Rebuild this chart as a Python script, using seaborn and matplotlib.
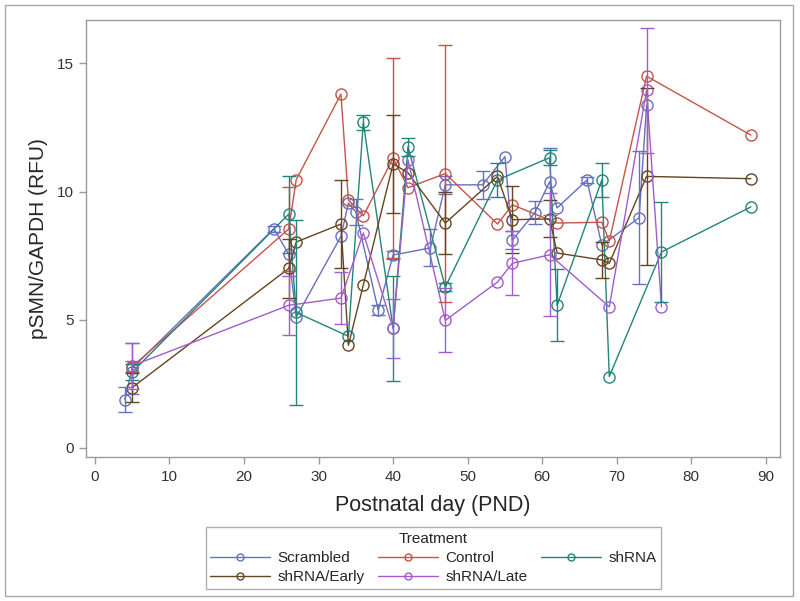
import matplotlib
matplotlib.use('Agg')
import matplotlib.pyplot as plt
import numpy as np
import pandas as pd
import seaborn as sns
from matplotlib.lines import Line2D
from matplotlib.patches import Rectangle


treatments = ['Scrambled', 'Control', 'shRNA', 'shRNA/Early', 'shRNA/Late']
colors = ['#6770bd', '#c6534a', '#23857a', '#664420', '#a25ccd']

# values (mean, +/- error; 0 = no bar drawn)
scr_day = [4, 5, 24, 26, 27, 33, 34, 35, 38, 40, 45, 47, 52, 55, 56, 59, 61, 62, 66, 68, 73, 74]
scr_val = [1.88, 3.1, 8.55, 7.55, 5.1, 8.25, 9.55, 9.2, 5.37, 7.52, 7.8, 10.26, 10.26, 11.36,
           8.1, 9.17, 10.38, 9.36, 10.45, 7.9, 8.98, 13.37]
scr_err = [0.5, 1.0, 0.12, 0, 0, 0, 0, 0.5, 0.2, 0.15, 0.72, 0.35, 0.55, 0,
           0.35, 0.45, 1.3, 0, 0.1, 0, 2.6, 0]

ctl_day = [5, 26, 27, 33, 34, 36, 40, 42, 47, 54, 56, 62, 68, 69, 74, 88]
ctl_val = [3.17, 8.54, 10.46, 13.8, 9.67, 9.05, 11.3, 10.15, 10.7, 8.73, 9.48, 8.77, 8.8, 8.07, 14.5, 12.2]
ctl_err = [0.2, 1.65, 0, 0, 0, 0, 3.9, 0, 5.0, 0, 0, 0, 0, 0, 0, 0]

sh_day = [5, 26, 27, 34, 36, 40, 42, 47, 54, 61, 62, 68, 69, 76, 88]
sh_val = [2.95, 9.12, 5.28, 4.35, 12.7, 4.66, 11.75, 6.27, 10.45, 11.32, 5.56, 10.45, 2.78, 7.64, 9.4]
sh_err = [0.3, 1.5, 3.6, 0, 0.3, 2.05, 0.35, 0.15, 0.65, 0.3, 1.4, 0.65, 0, 1.95, 0]

early_day = [5, 26, 27, 33, 34, 36, 40, 42, 47, 54, 56, 61, 62, 68, 69, 74, 88]
early_val = [2.35, 7.0, 8.03, 8.73, 4.0, 6.35, 11.08, 10.73, 8.77, 10.59, 8.9, 8.93, 7.6, 7.33, 7.2, 10.59, 10.5]
early_err = [0.55, 1.15, 0, 1.73, 0, 0, 1.92, 0, 1.2, 0, 1.3, 0.72, 0, 0.7, 0, 3.45, 0]

late_day = [5, 26, 33, 36, 40, 42, 47, 54, 56, 61, 69, 74, 76]
late_val = [3.2, 5.56, 5.84, 8.38, 4.66, 11.24, 4.97, 6.47, 7.2, 7.53, 5.5, 13.95, 5.5]
late_err = [0.9, 1.15, 1.0, 0, 1.15, 0, 1.25, 0, 1.25, 2.4, 0, 2.45, 0]


def build_frame():
    series = [
        ('Scrambled', scr_day, scr_val, scr_err),
        ('Control', ctl_day, ctl_val, ctl_err),
        ('shRNA', sh_day, sh_val, sh_err),
        ('shRNA/Early', early_day, early_val, early_err),
        ('shRNA/Late', late_day, late_val, late_err),
    ]
    frames = []
    for name, d, v, e in series:
        frames.append(pd.DataFrame({'PND': d, 'pSMN': v, 'err': e, 'Treatment': name}))
    return pd.concat(frames, ignore_index=True)


def plot():
    sns.set_style('white')
    plt.rcParams['font.family'] = ['Liberation Sans', 'DejaVu Sans']
    grey = '#9a9a9a'

    df = build_frame()
    fig = plt.figure(figsize=(8, 6.01), dpi=100)
    ax = fig.add_axes([0.1075, 0.2396, 0.8675, 0.727])

    sns.lineplot(data=df, x='PND', y='pSMN', hue='Treatment', hue_order=treatments,
                 palette=colors, estimator=None, sort=True, marker='o', markersize=8,
                 linewidth=1.0, legend=False, ax=ax)
    for line in ax.lines:
        line.set_markeredgecolor(line.get_color())
        line.set_markerfacecolor('none')
        line.set_markeredgewidth(1.0)

    # error bars, only where a bar is drawn
    for name, c in zip(treatments, colors):
        sub = df[(df['Treatment'] == name) & (df['err'] > 0)]
        ax.errorbar(sub['PND'], sub['pSMN'], yerr=sub['err'], fmt='none', ecolor=c,
                    elinewidth=1.0, capsize=5, capthick=1.0)

    ax.set_xlim(-1.2, 91.9)
    ax.set_ylim(-0.36, 16.69)
    ax.set_xticks(np.arange(0, 91, 10))
    ax.set_yticks([0, 5, 10, 15])
    for s in ax.spines.values():
        s.set_color(grey)
        s.set_linewidth(1.0)
    ax.tick_params(direction='out', length=5, width=1, color=grey, labelcolor='#333333',
                   labelsize=11, pad=4, bottom=True, left=True)
    ax.set_xlabel('Postnatal day (PND)', fontsize=15.5, labelpad=8)
    ax.set_ylabel('pSMN/GAPDH (RFU)', fontsize=15, labelpad=6)

    # legend fills row by row in the reference, matplotlib fills by column
    order = [0, 3, 1, 4, 2]
    handles = [Line2D([0], [0], color=colors[i], lw=1.0, marker='o', markersize=5,
                      mfc='none', mec=colors[i]) for i in order]
    labels = [treatments[i] for i in order]
    leg = fig.legend(handles, labels, ncol=3, title='Treatment', loc='center',
                     bbox_to_anchor=(0.5419, 0.0715), frameon=True, fancybox=False,
                     edgecolor=grey, fontsize=11, title_fontsize=11, handlelength=3.9,
                     columnspacing=0.9, labelspacing=0.35, borderpad=0.3, handletextpad=0.5)
    leg.get_frame().set_linewidth(1.0)

    # outer border round the whole graph
    fig.patches.append(Rectangle((5 / 800, 5 / 601), 788 / 800, 591 / 601, fill=False,
                                 edgecolor='#a8a8a8', lw=1.0, transform=fig.transFigure))

    fig.savefig('out.png', dpi=100)
    plt.close()


if __name__ == '__main__':
    plot()
